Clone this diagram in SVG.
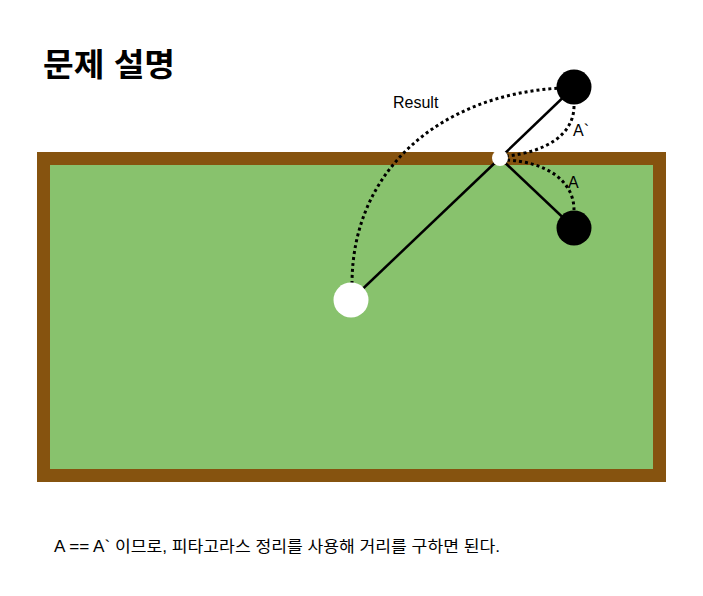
<svg xmlns="http://www.w3.org/2000/svg" width="703" height="596" viewBox="0 0 703 596">
<style>
.t{font-family:"Liberation Sans","Noto Sans CJK KR",sans-serif;fill:#000}
.ln{stroke:#000;stroke-width:2.5;fill:none}
.dot{stroke:#000;stroke-width:3;stroke-dasharray:3 3;fill:none}
</style>
<rect width="703" height="596" fill="#fff"/>
<g id="table">
<rect x="37" y="152" width="629" height="330" fill="#86530F"/>
<rect x="50" y="165" width="603" height="304" fill="#88C26D"/>
</g>
<text class="t" x="43" y="76" font-size="32" font-weight="bold" textLength="132" lengthAdjust="spacingAndGlyphs">문제 설명</text>
<g id="connectors">
<line class="ln" x1="351" y1="300" x2="500" y2="158"/>
<line class="ln" x1="500" y1="158" x2="574" y2="228"/>
<line class="ln" x1="500" y1="158" x2="574" y2="87"/>
<path class="dot" d="M 352 284 C 352 170, 440 95, 560 88"/>
<path class="dot" d="M 574 106 C 574 135, 545 152, 507 156"/>
<path class="dot" d="M 507 160 C 545 162, 574 180, 574 210"/>
</g>
<g id="cue-ball"><circle cx="351" cy="300" r="17.5" fill="#fff"/></g>
<g id="contact-point"><circle cx="500" cy="158" r="8" fill="#fff"/></g>
<g id="ball-mirror"><circle cx="574" cy="87" r="17.5" fill="#000"/></g>
<g id="ball-target"><circle cx="574" cy="228" r="17.5" fill="#000"/></g>
<g id="labels">
<text class="t" x="393" y="108" font-size="16">Result</text>
<text class="t" x="573" y="136" font-size="16">A`</text>
<text class="t" x="568" y="188" font-size="16">A</text>
</g>
<text class="t" x="54" y="552" font-size="16" textLength="446" lengthAdjust="spacingAndGlyphs">A == A` 이므로, 피타고라스 정리를 사용해 거리를 구하면 된다.</text>
</svg>
